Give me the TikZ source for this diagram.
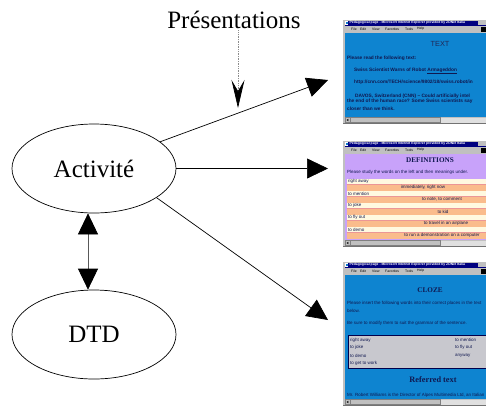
\documentclass[tikz,border=0pt]{standalone}
\usepackage{fontspec}
\setmainfont{Liberation Serif}
\setsansfont{Liberation Sans}
\usetikzlibrary{arrows.meta,shapes}

\definecolor{winblue}{RGB}{14,132,208}
\definecolor{winlilac}{RGB}{200,162,250}
\definecolor{wingray}{RGB}{192,192,192}
\definecolor{wintitle}{RGB}{0,0,128}
\definecolor{rowcream}{RGB}{255,249,224}
\definecolor{roworange}{RGB}{250,188,140}
\definecolor{rowline}{RGB}{236,150,150}
\definecolor{inktext}{RGB}{16,24,80}
\definecolor{boxgray}{RGB}{200,200,206}

\tikzset{
  blob/.style={ellipse,draw,line width=0.7pt,minimum width=164pt,minimum height=89pt,
    font=\fontsize{25}{30}\selectfont},
  bigarrow/.style={line width=0.7pt,-{Triangle[length=21pt,width=20pt]}},
  duoarrow/.style={line width=0.7pt,draw=black!65,
    {Triangle[length=21pt,width=20pt,black]}-{Triangle[length=21pt,width=20pt,black]}},
  dotline/.style={line width=0.7pt,draw=black!45,densely dotted,
    -{Stealth[length=28pt,width=13pt,inset=11pt,black]}},
  titletext/.style={font=\sffamily\bfseries\fontsize{3.4}{4}\selectfont,text=white,
    inner sep=0pt,anchor=west},
  menutext/.style={font=\sffamily\fontsize{3.4}{4}\selectfont,inner sep=0pt,anchor=west},
  comictext/.style={font=\sffamily\bfseries\fontsize{4.8}{5.5}\selectfont,text=inktext,
    inner sep=0pt,anchor=west},
  pagetext/.style={font=\sffamily\fontsize{4.5}{5}\selectfont,text=inktext,
    inner sep=0pt,anchor=west},
  pagehead/.style={font=\bfseries\fontsize{7.2}{8}\selectfont,text=inktext,inner sep=0pt}
}

% browser window: top, bottom, page colour
\newcommand{\browser}[3]{%
  \fill[wingray] (343,#1) rectangle (490,#2);
  \draw[black!55] (343,#2-0.5) -- (490,#2-0.5);
  \fill[wintitle] (344.5,#1+0.5) rectangle (490,#1+5.5);
  \fill[white] (345.2,#1+1.1) rectangle (348.4,#1+4.9);
  \fill[cyan!60!blue] (345.7,#1+1.6) rectangle (347.9,#1+4.4);
  \node[titletext] at (349.5,#1+3) {Pedagogical page - Microsoft Internet Explorer provided by ZDNet Italia};
  \fill[wingray] (477.5,#1+1.2) rectangle (490,#1+4.8);
  \foreach \mx/\mw in {351/File,360/Edit,372/View,385/Favorites,405/Tools,417/Help}
    \node[menutext] at (\mx,#1+9) {\mw};
  \fill[black] (481,#1+6.5) rectangle (490,#1+12);
  \fill[#3] (345,#1+12.5) rectangle (490,#2-7);
  \fill[black!12] (345,#2-6.5) rectangle (490,#2-1.5);
  \draw[black!50,fill=wingray,line width=0.3pt] (345,#2-6.5) rectangle (350,#2-1.5);
  \fill[black] (346.6,#2-4) -- (348.3,#2-5.2) -- (348.3,#2-2.8) -- cycle;
  \draw[black!50,fill=wingray,line width=0.3pt] (350,#2-6.5) rectangle (440,#2-1.5);
}

\begin{document}
\begin{tikzpicture}[x=1pt,y=-1pt]
\useasboundingbox (0,0) rectangle (486,405);

% the three pages
\begin{scope}
\clip (0,0) rectangle (486,405);
\browser{20}{124}{winblue}
\node[font=\sffamily\fontsize{7.4}{8}\selectfont,text=inktext!85!gray,inner sep=0pt] at (440,44) {TEXT};
\node[comictext] at (347,58) {Please read the following text:};
\node[comictext] at (354,71) {Swiss Scientist Warns of Robot \underline{Armageddon}};
\node[comictext] at (354,82) {http://cnn.com/TECH/science/9802/18/swiss.robot/in};
\node[comictext] at (355,96) {DAVOS, Switzerland (CNN) -- Could artificially intel};
\node[comictext] at (347,101.5) {the end of the human race? Some Swiss scientists say};
\node[comictext] at (347,108.5) {closer than we think.};

\browser{141}{247}{winlilac}
\node[pagehead] at (430,160) {DEFINITIONS};
\node[pagetext] at (347,172) {Please study the words on the left and then meanings under.};
\foreach \ry/\wa/\wb/\bx in {179/right away/{immediately, right now}/423,
    191/to mention/{to note, to comment}/442, 203/to joke/to kid/443,
    215/to fly out/to travel in an airplane/446,
    227/to demo/to run a demonstration on a computer/442}{
  \fill[rowcream] (346.5,\ry) rectangle (490,\ry+5);
  \fill[roworange] (346.5,\ry+5.5) rectangle (490,\ry+11.5);
  \draw[rowline,line width=0.4pt] (346.5,\ry+5.25) -- (490,\ry+5.25);
  \node[pagetext] at (348,\ry+2.5) {\wa};
  \node[pagetext,anchor=center] at (\bx,\ry+8.6) {\wb};
}

\browser{262}{406}{winblue}
\node[pagehead] at (430,290) {CLOZE};
\node[pagetext] at (347,303) {Please insert the following words into their correct places in the text};
\node[pagetext] at (347,310.5) {below.};
\node[pagetext] at (347,323) {Be sure to modify them to suit the grammar of the sentence.};
\draw[fill=boxgray,draw=black!70!blue,line width=0.8pt] (348,335) rectangle (492,368);
\foreach \ly/\wl in {340/right away,347/to joke,355.5/to demo,363/to get to work}
  \node[pagetext] at (350,\ly) {\wl};
\foreach \ly/\wr in {340/to mention,347/to fly out,355.5/anyway}
  \node[pagetext] at (455,\ly) {\wr};
\node[pagehead,font=\bfseries\fontsize{8.3}{9}\selectfont] at (433,380) {Referred text};
\node[pagetext] at (347,395) {Mr. Robert Williams is the Director of Alpes Multimedia Ltd, an Italian};
\end{scope}

% the diagram
\node[blob] (act) at (94,168.5) {Activité};
\node[blob] (dtd) at (94,334.5) {DTD};
\node[font=\fontsize{25}{30}\selectfont,inner sep=1.5pt,anchor=base] (pres) at (234,28.5) {Présentations};
\coordinate (presTip) at (238,108);
\coordinate (tip1) at (328,80);
\coordinate (tip2) at (328,168.5);
\coordinate (tip3) at (328,320);
\draw[dotline] ([xshift=4pt]pres.south) -- (presTip);
\draw[bigarrow] (act.22) -- (tip1);
\draw[bigarrow] (act.east) -- (tip2);
\draw[bigarrow] (act.-25) -- (tip3);
\draw[duoarrow] ([xshift=-6pt]act.south) -- ([xshift=-6pt]dtd.north);
\end{tikzpicture}
\end{document}
